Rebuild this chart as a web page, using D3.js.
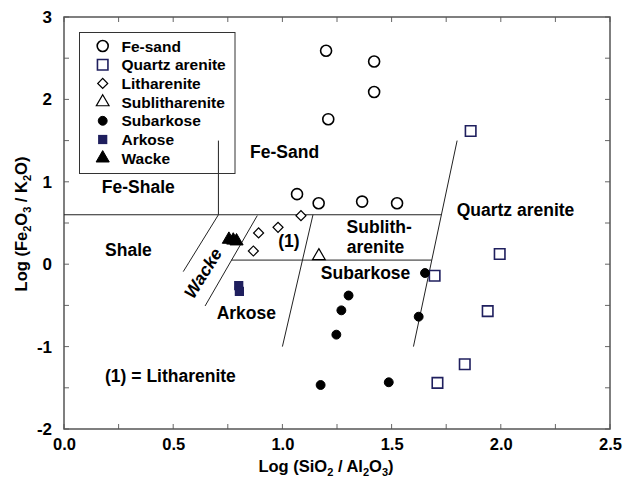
<!DOCTYPE html>
<html>
<head>
<meta charset="utf-8">
<script src="https://cdn.jsdelivr.net/npm/d3@7"></script>
<style>
  html, body { margin: 0; padding: 0; background: #fff; }
  svg text { font-family: "Liberation Sans", Arial, sans-serif; font-weight: bold; fill: #000; }
</style>
</head>
<body>
<svg id="chart" width="624" height="490"></svg>
<script>
// Sample groups: [log(SiO2/Al2O3), log(Fe2O3/K2O)]
const feSand = [[1.20, 2.59], [1.42, 2.46], [1.42, 2.09], [1.21, 1.76], [1.067, 0.85], [1.166, 0.74], [1.365, 0.76], [1.525, 0.74]];
const quartzArenite = [[1.862, 1.616], [1.995, 0.124], [1.697, -0.14], [1.94, -0.57], [1.835, -1.215], [1.71, -1.44]];
const litharenite = [[1.085, 0.589], [0.98, 0.448], [0.891, 0.379], [0.867, 0.16]];
const sublitharenite = [[1.167, 0.10]];
const subarkose = [[1.653, -0.107], [1.303, -0.38], [1.27, -0.56], [1.247, -0.855], [1.624, -0.637], [1.175, -1.466], [1.487, -1.433]];
const arkose = [[0.80, -0.26], [0.803, -0.33]];
const wacke = [[0.755, 0.30], [0.775, 0.29], [0.79, 0.28]];

// Classification field boundaries
const boundaries = [
  [[0, 0.6], [1.728, 0.6]],
  [[0.707, 0.6], [0.707, 1.5]],
  [[0.707, 0.6], [0.546, -0.09]],
  [[0.885, 0.59], [0.646, -0.507]],
  [[1.14, 0.6], [1.0, -1.0]],
  [[0.766, 0.05], [1.684, 0.05]],
  [[1.80, 1.5], [1.60, -1.0]]
];

// Field names, anchored at their left baseline in data units
const fieldLabels = [
  { text: "Fe-Sand", at: [0.852, 1.289] },
  { text: "Fe-Shale", at: [0.173, 0.86] },
  { text: "Shale", at: [0.188, 0.103] },
  { text: "Quartz arenite", at: [1.798, 0.585] },
  { text: "Sublith-", at: [1.294, 0.382] },
  { text: "arenite", at: [1.295, 0.14] },
  { text: "Subarkose", at: [1.176, -0.183] },
  { text: "(1)", at: [0.981, 0.205] },
  { text: "Arkose", at: [0.699, -0.671] },
  { text: "(1) = Litharenite", at: [0.188, -1.426] }
];

const xTicks = [0, 0.5, 1.0, 1.5, 2.0, 2.5];
const yTicks = [-2, -1, 0, 1, 2, 3];

const svg = d3.select("#chart");
const m = { left: 64, right: 610, top: 17, bottom: 429 };
const x = d3.scaleLinear().domain([0, 2.5]).range([m.left, m.right]);
const y = d3.scaleLinear().domain([-2, 3]).range([m.bottom, m.top]);

const navy = "#1f1f5e";

// inward ticks on all four sides
const tickLen = 5;
const tickColor = "#666";
const g = svg.append("g");
d3.range(0, 2.5001, 0.25).forEach(v => {
  g.append("line").attr("x1", x(v)).attr("x2", x(v)).attr("y1", m.bottom).attr("y2", m.bottom - tickLen).attr("stroke", tickColor);
  g.append("line").attr("x1", x(v)).attr("x2", x(v)).attr("y1", m.top).attr("y2", m.top + tickLen).attr("stroke", tickColor);
});
d3.range(-2, 3.001, 0.5).forEach(v => {
  g.append("line").attr("y1", y(v)).attr("y2", y(v)).attr("x1", m.left).attr("x2", m.left + tickLen).attr("stroke", tickColor);
  g.append("line").attr("y1", y(v)).attr("y2", y(v)).attr("x1", m.right).attr("x2", m.right - tickLen).attr("stroke", tickColor);
});

// tick labels via d3 axes
const xAxis = d3.axisBottom(x).tickValues(xTicks).tickFormat(d3.format(".1f")).tickSize(0).tickPadding(9);
svg.append("g").attr("transform", `translate(0,${m.bottom})`).call(xAxis)
  .call(s => s.select(".domain").remove())
  .selectAll("text").attr("font-size", 16.5).attr("font-family", null).attr("fill", "#000");
const yAxis = d3.axisLeft(y).tickValues(yTicks).tickFormat(d3.format("d")).tickSize(0).tickPadding(12);
svg.append("g").attr("transform", `translate(${m.left},0)`).call(yAxis)
  .call(s => s.select(".domain").remove())
  .selectAll("text").attr("font-size", 17).attr("font-family", null).attr("fill", "#000");
svg.selectAll(".tick text").text(function () { return this.textContent.replace("\u2212", "-"); });

// frame
svg.append("rect").attr("x", m.left).attr("y", m.top)
  .attr("width", m.right - m.left).attr("height", m.bottom - m.top)
  .attr("fill", "none").attr("stroke", "#555").attr("stroke-width", 1.5);

// axis titles with subscripts
const xt = svg.append("text").attr("x", 326).attr("y", 472).attr("text-anchor", "middle").attr("font-size", 16.5);
xt.append("tspan").text("Log (SiO");
xt.append("tspan").text("2").attr("font-size", 11).attr("dy", 4);
xt.append("tspan").text(" / Al").attr("dy", -4);
xt.append("tspan").text("2").attr("font-size", 11).attr("dy", 4);
xt.append("tspan").text("O").attr("dy", -4);
xt.append("tspan").text("3").attr("font-size", 11).attr("dy", 4);
xt.append("tspan").text(")").attr("dy", -4);

const yt = svg.append("text").attr("transform", "translate(27,224) rotate(-90)").attr("text-anchor", "middle").attr("font-size", 16.5);
yt.append("tspan").text("Log (Fe");
yt.append("tspan").text("2").attr("font-size", 11).attr("dy", 4);
yt.append("tspan").text("O").attr("dy", -4);
yt.append("tspan").text("3").attr("font-size", 11).attr("dy", 4);
yt.append("tspan").text(" / K").attr("dy", -4);
yt.append("tspan").text("2").attr("font-size", 11).attr("dy", 4);
yt.append("tspan").text("O)").attr("dy", -4);

// field boundaries
const line = d3.line().x(d => x(d[0])).y(d => y(d[1]));
svg.append("g").selectAll("path").data(boundaries).join("path")
  .attr("d", line).attr("fill", "none").attr("stroke", "#222").attr("stroke-width", 1);

// field labels
svg.append("g").selectAll("text").data(fieldLabels).join("text")
  .attr("x", d => x(d.at[0])).attr("y", d => y(d.at[1]))
  .attr("font-size", 17.5).text(d => d.text);
svg.append("text")
  .attr("transform", `translate(${x(0.636)},${y(-0.107)}) rotate(-58)`)
  .attr("text-anchor", "middle").attr("dy", "0.35em")
  .attr("font-size", 17.5).attr("font-style", "italic").text("Wacke");

// marker shapes; the diamond is a square turned 45 degrees
const series = [
  { name: "Fe-sand", data: feSand, type: d3.symbolCircle, size: 95, fill: "#fff", stroke: "#000", sw: 1.6 },
  { name: "Quartz arenite", data: quartzArenite, type: d3.symbolSquare, size: 110, fill: "#fff", stroke: navy, sw: 1.6 },
  { name: "Litharenite", data: litharenite, type: d3.symbolSquare, size: 50, rot: 45, fill: "#fff", stroke: "#000", sw: 1.2 },
  { name: "Sublitharenite", data: sublitharenite, type: d3.symbolTriangle, size: 70, fill: "#fff", stroke: "#000", sw: 1.2 },
  { name: "Subarkose", data: subarkose, type: d3.symbolCircle, size: 62, fill: "#000", stroke: "#000", sw: 1 },
  { name: "Arkose", data: arkose, type: d3.symbolSquare, size: 85, fill: navy, stroke: navy, sw: 0 },
  { name: "Wacke", data: wacke, type: d3.symbolTriangle, size: 75, fill: "#000", stroke: "#000", sw: 1 }
];
const place = (s, px, py) => `translate(${px},${py})` + (s.rot ? ` rotate(${s.rot})` : "");
series.forEach(s => {
  const p = d3.symbol().type(s.type).size(s.size)();
  svg.append("g").selectAll("path").data(s.data).join("path")
    .attr("d", p)
    .attr("transform", d => place(s, x(d[0]), y(d[1])))
    .attr("fill", s.fill).attr("stroke", s.stroke).attr("stroke-width", s.sw);
});

// legend
const leg = svg.append("g");
leg.append("rect").attr("x", 79.5).attr("y", 32.5).attr("width", 155.5).attr("height", 141)
  .attr("fill", "none").attr("stroke", "#333").attr("stroke-width", 1);
series.forEach((s, i) => {
  const cy = 46 + i * 18.7;
  leg.append("path").attr("d", d3.symbol().type(s.type).size(s.size)())
    .attr("transform", place(s, 102.7, cy))
    .attr("fill", s.fill).attr("stroke", s.stroke).attr("stroke-width", s.sw);
  leg.append("text").attr("x", 121.5).attr("y", cy + 5.5).attr("font-size", 15.5).text(s.name);
});
</script>
</body>
</html>
